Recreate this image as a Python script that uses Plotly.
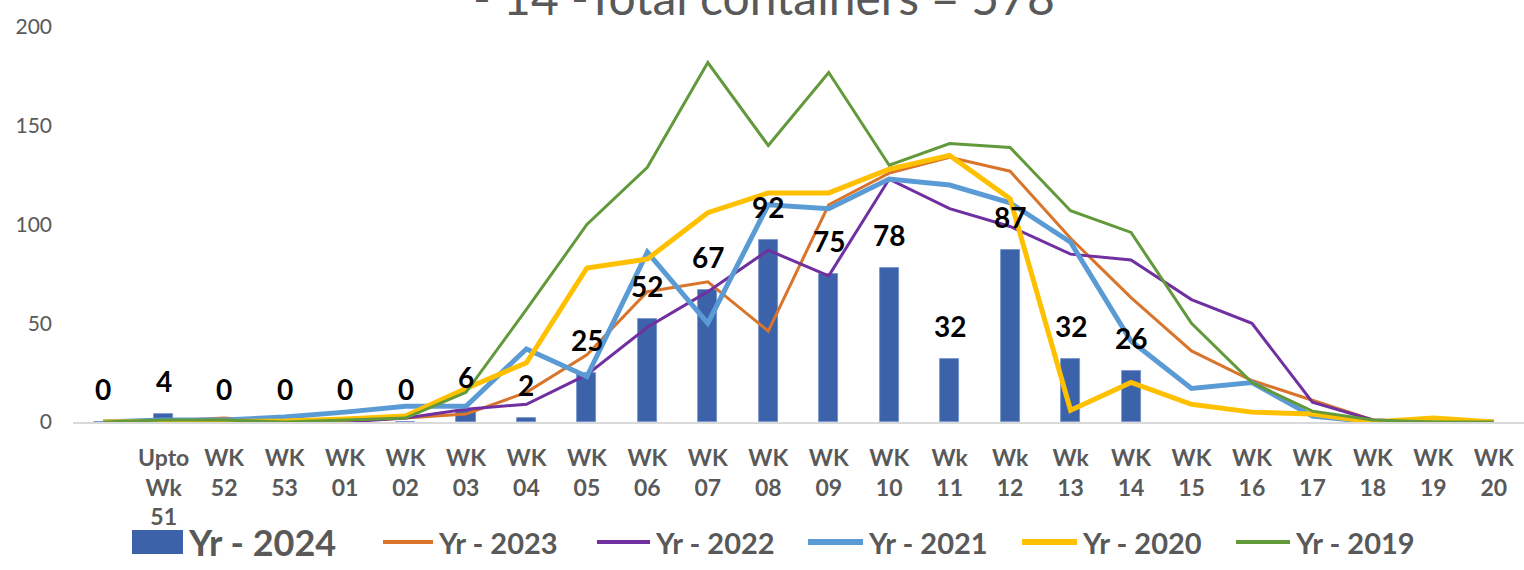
import plotly.graph_objects as go

# Week labels (first slot is an unlabeled lead-in position)
weeks = ["", "Upto Wk 51", "WK 52", "WK 53", "WK 01", "WK 02", "WK 03", "WK 04",
         "WK 05", "WK 06", "WK 07", "WK 08", "WK 09", "WK 10", "Wk 11", "Wk 12",
         "Wk 13", "WK 14", "WK 15", "WK 16", "WK 17", "WK 18", "WK 19", "WK 20"]

# Containers per week, current season (bars)
yr_2024 = [0, 4, 0, 0, 0, 0, 6, 2, 25, 52, 67, 92, 75, 78, 32, 87, 32, 26,
           None, None, None, None, None, None]

# Previous seasons (lines)
yr_2023 = [0, 0.5, 2, 0, 0.5, 2, 4, 15, 34, 66, 71, 46, 110, 126, 134, 127,
           93, 63, 36, 21, 11, 1, 0, 0]
yr_2022 = [0, 0, 0, 0, 0, 2, 6.5, 9, 24, 48, 66, 87, 74, 123, 108, 99,
           85, 82, 62, 50, 10, 1, 0, 0]
yr_2021 = [0, 1, 1, 2.5, 5, 8, 8, 37, 23, 86, 50, 110, 108, 123, 120, 111,
           91, 41, 17, 20, 3, 0, 0, 0]
yr_2020 = [0, 0, 0, 0.5, 1.5, 3, 17, 30, 78, 82.5, 106, 116, 116, 128, 135, 113,
           6, 20, 9, 5, 4, 0, 2, 0]
yr_2019 = [0, 1, 1, 0, 1, 2, 15, 57, 100, 129, 182, 140, 177, 130, 141, 139,
           107, 96, 50, 20, 5.5, 1, 0, 0]

y_ticks = [0, 50, 100, 150, 200]
title_text = "- 14 -Total containers = 578"

FONT = "Lato"
GREY = "#595959"
BAR_COLOR = "#3C63AA"

line_series = [
    ("Yr - 2023", yr_2023, "#D8752B", 3),
    ("Yr - 2022", yr_2022, "#7030A0", 3),
    ("Yr - 2021", yr_2021, "#5B9BD5", 5),
    ("Yr - 2020", yr_2020, "#FFC000", 5),
    ("Yr - 2019", yr_2019, "#62993B", 3),
]

x = list(range(len(weeks)))

# Plot-area geometry in pixels
L, W_PLOT, B, H_PLOT = 73, 1451, 422, 395


def px(v):
    return (v - L) / W_PLOT


def py(v):
    return (B - v) / H_PLOT


fig = go.Figure()
fig.add_trace(go.Bar(
    x=x, y=yr_2024, name="Yr - 2024", width=0.315,
    marker=dict(color=BAR_COLOR, line=dict(color="#6F8FCB", width=0.8)),
    showlegend=False,
))
for name, vals, color, w in line_series:
    fig.add_trace(go.Scatter(
        x=x, y=vals, name=name, mode="lines",
        line=dict(color=color, width=w),
        showlegend=False,
    ))

annotations = []
# Value labels above each bar
for i, v in enumerate(yr_2024):
    if v is None:
        continue
    annotations.append(dict(
        x=i, y=v, xref="x", yref="y", text=str(v), showarrow=False,
        yanchor="bottom", yshift=14,
        font=dict(family=FONT, size=28, color="#000000", weight="bold"),
    ))

# Chart title (upper part runs off the top edge)
annotations.append(dict(
    x=px(764), xref="paper", y=1.0, yref="paper", text=title_text,
    showarrow=False, xanchor="center", yanchor="bottom", yshift=0,
    font=dict(family=FONT, size=48, color=GREY),
))

# Legend row built from shapes + text
shapes = []
leg_y = 542
shapes.append(dict(type="rect", xref="paper", yref="paper",
                   x0=px(132), x1=px(183), y0=py(554), y1=py(530),
                   fillcolor=BAR_COLOR, line=dict(width=0)))
annotations.append(dict(
    x=px(186), y=py(leg_y), xref="paper", yref="paper", text="Yr - 2024",
    showarrow=False, xanchor="left", yanchor="middle",
    font=dict(family=FONT, size=36, color=GREY, weight="bold"),
))
legend_x = [(383, 433), (597, 650), (808, 863), (1022, 1077), (1236, 1290)]
for (name, vals, color, w), (x0, x1) in zip(line_series, legend_x):
    shapes.append(dict(type="line", xref="paper", yref="paper",
                       x0=px(x0), x1=px(x1), y0=py(leg_y), y1=py(leg_y),
                       line=dict(color=color, width=w + 1)))
    annotations.append(dict(
        x=px(x1 + 3), y=py(leg_y), xref="paper", yref="paper", text=name,
        showarrow=False, xanchor="left", yanchor="middle",
        font=dict(family=FONT, size=29, color=GREY, weight="bold"),
    ))

fig.update_layout(
    width=1524, height=570,
    margin=dict(l=L, r=1524 - L - W_PLOT, t=B - H_PLOT, b=570 - B),
    paper_bgcolor="white", plot_bgcolor="white",
    bargap=0, showlegend=False,
    annotations=annotations, shapes=shapes,
    font=dict(family=FONT, color=GREY),
)
fig.update_xaxes(
    range=[-0.5, len(weeks) - 0.5],
    tickvals=x, ticktext=[w.replace(" ", "<br>") for w in weeks],
    tickfont=dict(family=FONT, size=23, color=GREY, weight="bold"),
    showgrid=False, zeroline=False, showline=True,
    linecolor="#D9D9D9", linewidth=2, ticks="", ticklabelstandoff=14,
)
fig.update_yaxes(
    range=[0, 200], tickvals=y_ticks,
    tickfont=dict(family=FONT, size=21, color=GREY),
    showgrid=False, zeroline=False, showline=False, ticks="",
    ticklabelstandoff=20,
)

fig.write_html("out.html")
